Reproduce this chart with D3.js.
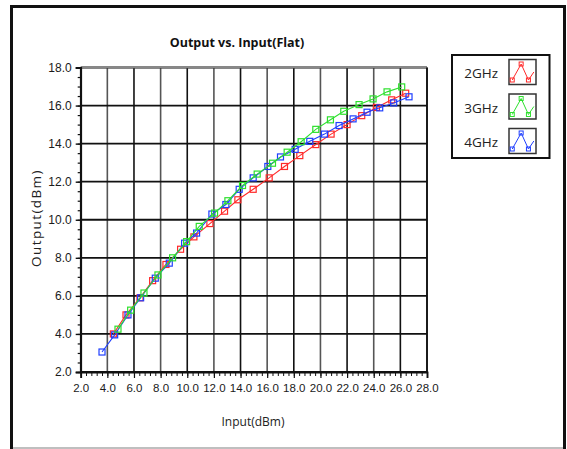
<!DOCTYPE html>
<html><head><meta charset="utf-8">
<script src="https://cdn.jsdelivr.net/npm/d3@7"></script>
<style>
html,body{margin:0;padding:0;background:#fff;}
svg{display:block;font-family:"Open Sans","Noto Sans",sans-serif;}
</style></head>
<body>
<svg id="c" width="567" height="449"></svg>
<script>
const title = "Output vs. Input(Flat)";
const xTitle = "Input(dBm)";
const yTitle = "Output(dBm)";
const xTicks = [2,4,6,8,10,12,14,16,18,20,22,24,26,28];
const yTicks = [2,4,6,8,10,12,14,16,18];
const seriesNames = ["2GHz","3GHz","4GHz"];
const seriesColors = ["#ff2a2a","#2ee02e","#1f3fff"];

const redX = [4.45,5.4,6.45,7.4,8.4,9.5,10.5,11.7,12.8,13.8,14.95,16.15,17.3,18.45,19.65,20.8,22.0,23.1,24.2,25.35,26.4];
const redY = [4.0,5.0,5.9,6.8,7.65,8.45,9.1,9.8,10.45,11.05,11.6,12.2,12.8,13.37,13.95,14.5,15.0,15.47,15.9,16.3,16.65];
const greenX = [4.8,5.75,6.75,7.8,8.9,9.95,10.9,12.05,13.05,14.15,15.25,16.4,17.5,18.55,19.65,20.75,21.75,22.9,23.95,25.0,26.1];
const greenY = [4.25,5.25,6.15,7.1,8.0,8.85,9.65,10.35,11.0,11.8,12.4,12.97,13.55,14.1,14.75,15.25,15.7,16.05,16.35,16.72,16.98];
const blueX = [3.6,4.55,5.55,6.5,7.6,8.65,9.8,10.7,11.85,12.9,13.9,14.95,16.05,17.0,18.1,19.2,20.3,21.4,22.45,23.5,24.45,25.5,26.65];
const blueY = [3.05,3.95,5.0,5.9,6.93,7.72,8.77,9.3,10.3,10.8,11.6,12.2,12.8,13.3,13.7,14.12,14.5,14.95,15.3,15.65,15.88,16.14,16.46];

const series = [
  {name:seriesNames[0], color:seriesColors[0], pts:d3.zip(redX,redY)},
  {name:seriesNames[1], color:seriesColors[1], pts:d3.zip(greenX,greenY)},
  {name:seriesNames[2], color:seriesColors[2], pts:d3.zip(blueX,blueY)}
];

const svg = d3.select("#c");
// outer frame
svg.append("line").attr("x1",11.5).attr("x2",565).attr("y1",6.5).attr("y2",6.5).attr("stroke","#111").attr("stroke-width",3);
svg.append("line").attr("x1",11.5).attr("x2",11.5).attr("y1",5).attr("y2",449).attr("stroke","#111").attr("stroke-width",3);
svg.append("line").attr("x1",564.5).attr("x2",564.5).attr("y1",5).attr("y2",449).attr("stroke","#111").attr("stroke-width",3);
svg.append("line").attr("x1",13).attr("x2",563).attr("y1",448).attr("y2",448).attr("stroke","#aaa").attr("stroke-width",1.5);

const L=80.7, R=427, T=67.5, B=372;
const x = d3.scaleLinear().domain([2,28]).range([L,R]);
const y = d3.scaleLinear().domain([2,18]).range([B,T]);

// grid
const g = svg.append("g");
g.selectAll(".vg").data(xTicks).enter().append("line")
  .attr("x1",d=>x(d)).attr("x2",d=>x(d)).attr("y1",T).attr("y2",B)
  .attr("stroke",(d,i)=> i%2 ? "#555" : "#111").attr("stroke-width",1.6);
g.selectAll(".hg").data(yTicks).enter().append("line")
  .attr("x1",L).attr("x2",R).attr("y1",d=>y(d)).attr("y2",d=>y(d))
  .attr("stroke","#111").attr("stroke-width",1.8);
g.append("line").attr("x1",L).attr("x2",R).attr("y1",T).attr("y2",T).attr("stroke","#888").attr("stroke-width",1.5);
g.append("line").attr("x1",R).attr("x2",R).attr("y1",T).attr("y2",B).attr("stroke","#111").attr("stroke-width",1.8);

// axes
const xAxis = d3.axisBottom(x).tickValues(xTicks).tickFormat(d3.format(".1f")).tickSize(6).tickPadding(6);
const xMinor = d3.range(2,28.001,0.4);
const xa = svg.append("g").attr("transform",`translate(0,${B})`).call(xAxis);
xa.select(".domain").attr("stroke","#111").attr("stroke-width",1.8);
xa.selectAll(".tick line").attr("stroke","#111").attr("stroke-width",1.2);
xa.selectAll("text").attr("font-size","11.5px").attr("fill","#1a1a1a");
svg.append("g").attr("transform",`translate(0,${B})`)
  .call(d3.axisBottom(x).tickValues(xMinor).tickSize(4).tickFormat(""))
  .call(s=>{s.select(".domain").remove(); s.selectAll("line").attr("stroke","#111").attr("stroke-width",1);});

const yAxis = d3.axisLeft(y).tickValues(yTicks).tickFormat(d3.format(".1f")).tickSize(5).tickPadding(4);
const ya = svg.append("g").attr("transform",`translate(${L},0)`).call(yAxis);
ya.select(".domain").attr("stroke","#111").attr("stroke-width",1.8);
ya.selectAll(".tick line").attr("stroke","#111").attr("stroke-width",1.4);
ya.selectAll("text").attr("font-size","12px").attr("fill","#1a1a1a");
svg.append("g").attr("transform",`translate(${L},0)`)
  .call(d3.axisLeft(y).tickValues(d3.range(2,18.001,0.5)).tickSize(3).tickFormat(""))
  .call(s=>{s.select(".domain").remove(); s.selectAll("line").attr("stroke","#111").attr("stroke-width",1.2);});

// titles
svg.append("text").attr("x",237).attr("y",47).attr("text-anchor","middle")
  .attr("font-size","12.5px").attr("font-weight","bold").attr("fill","#111").text(title);
svg.append("text").attr("x",253).attr("y",426).attr("text-anchor","middle")
  .attr("font-size","12px").attr("fill","#222").text(xTitle);
svg.append("text").attr("transform","translate(41,218) rotate(-90)").attr("text-anchor","middle")
  .attr("font-size","13.5px").attr("letter-spacing","1.4px").attr("fill","#222").text(yTitle);

// series
const line = d3.line().x(d=>x(d[0])).y(d=>y(d[1]));
const order = [0,2,1];
order.forEach(i=>{
  const s = series[i];
  const sg = svg.append("g");
  sg.append("path").attr("d",line(s.pts)).attr("fill","none").attr("stroke",s.color).attr("stroke-width",1.1);
  sg.selectAll("rect").data(s.pts).enter().append("rect")
    .attr("x",d=>x(d[0])-3).attr("y",d=>y(d[1])-3).attr("width",6).attr("height",6)
    .attr("fill","none").attr("stroke",s.color).attr("stroke-width",1.2);
});

// legend
const lg = svg.append("g");
lg.append("rect").attr("x",452).attr("y",55).attr("width",97.5).attr("height",103)
  .attr("fill","#fff").attr("stroke","#111").attr("stroke-width",2);
const icon = [[0.12,0.82],[0.45,0.18],[0.72,0.82],[0.92,0.5]];
series.forEach((s,i)=>{
  const cy = 73 + i*34.5;
  lg.append("text").attr("x",498).attr("y",cy+5).attr("text-anchor","end")
    .attr("font-size","13.5px").attr("fill","#222").text(s.name);
  const bx=509, by=cy-13.5, bw=27, bh=25;
  lg.append("rect").attr("x",bx).attr("y",by).attr("width",bw).attr("height",bh)
    .attr("fill","#fff").attr("stroke","#333").attr("stroke-width",1.5);
  const ix = d3.scaleLinear().domain([0,1]).range([bx,bx+bw]);
  const iy = d3.scaleLinear().domain([0,1]).range([by,by+bh]);
  lg.append("path").attr("d",d3.line().x(d=>ix(d[0])).y(d=>iy(d[1]))(icon))
    .attr("fill","none").attr("stroke",s.color).attr("stroke-width",1);
  lg.selectAll(null).data(icon.slice(0,3)).enter().append("rect")
    .attr("x",d=>ix(d[0])-2).attr("y",d=>iy(d[1])-2).attr("width",4).attr("height",4)
    .attr("fill","none").attr("stroke",s.color).attr("stroke-width",1);
});
</script>
</body></html>
